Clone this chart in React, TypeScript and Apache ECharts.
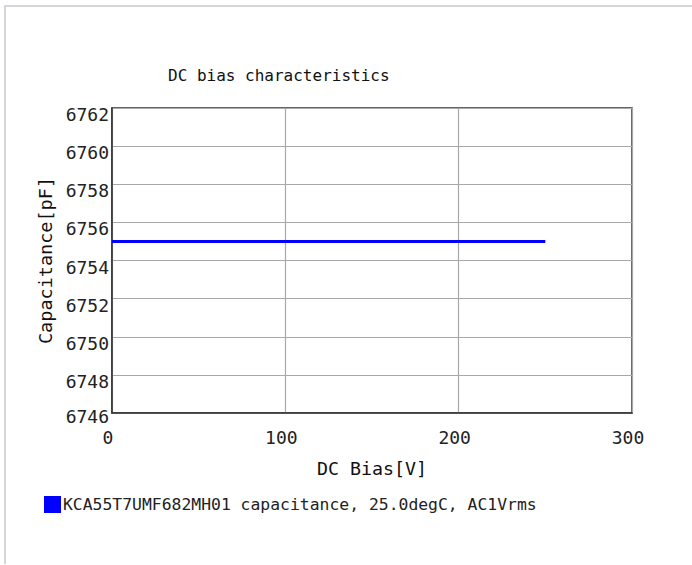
import React, { useEffect, useRef } from "react";
import * as echarts from "echarts";

const biasV = [0, 50, 100, 150, 200, 250];
const capacitancePF = [6755, 6755, 6755, 6755, 6755, 6755];
const seriesName = "KCA55T7UMF682MH01 capacitance, 25.0degC, AC1Vrms";
const titleText = "DC bias characteristics";
const xName = "DC Bias[V]";
const yName = "Capacitance[pF]";

const FONT = "'DejaVu Sans Mono', monospace";

export default function App() {
  const ref = useRef<HTMLDivElement>(null);
  useEffect(() => {
    if (!ref.current) return;
    const chart = echarts.init(ref.current, undefined, { renderer: "svg" });
    chart.setOption({
      animation: false,
      title: {
        text: titleText,
        left: 168,
        top: 67,
        padding: 0,
        textStyle: { fontFamily: FONT, fontSize: 16, fontWeight: "normal", color: "#111" },
      },
      legend: {
        left: 44,
        top: 496,
        padding: 0,
        itemWidth: 17,
        itemHeight: 17,
        icon: "rect",
        data: [{ name: seriesName, icon: "rect" }],
        textStyle: { fontFamily: FONT, fontSize: 16.4, color: "#222", padding: [0, 0, 0, -3] },
      },
      grid: {
        left: 112,
        right: 60,
        top: 108,
        bottom: 152,
        show: true,
        borderColor: "#333",
        borderWidth: 1.5,
        containLabel: false,
      },
      xAxis: {
        type: "value",
        min: 0,
        max: 300,
        interval: 100,
        name: xName,
        nameLocation: "middle",
        nameGap: 46,
        nameTextStyle: { fontFamily: FONT, fontSize: 18.3, color: "#111" },
        axisLine: { show: true, lineStyle: { color: "#333", width: 1.5 } },
        axisTick: { show: false },
        axisLabel: { fontFamily: FONT, fontSize: 18, color: "#222", margin: 15, padding: [0, 8, 0, 0] },
        splitLine: { show: true, lineStyle: { color: "#a8a8a8", width: 1.2 } },
      },
      yAxis: {
        type: "value",
        min: 6746,
        max: 6762,
        interval: 2,
        name: yName,
        nameLocation: "middle",
        nameGap: 50,
        nameTextStyle: { fontFamily: FONT, fontSize: 18.5, color: "#111" },
        axisLine: { show: true, lineStyle: { color: "#333", width: 1.5 } },
        axisTick: { show: false },
        axisLabel: {
          margin: 3,
          color: "#222",
          fontFamily: FONT,
          fontSize: 18,
          formatter: (v: number) => (v === 6746 ? `{b|${v}}` : `{a|${v}}`),
          rich: {
            a: { fontFamily: FONT, fontSize: 18, color: "#222", padding: [13, 0, 0, 0] },
            b: { fontFamily: FONT, fontSize: 18, color: "#222", padding: [6, 0, 0, 0] },
          },
        },
        splitLine: { show: true, lineStyle: { color: "#a8a8a8", width: 1.2 } },
      },
      series: [
        {
          name: seriesName,
          type: "line",
          data: biasV.map((x, i) => [x, capacitancePF[i]]),
          showSymbol: false,
          symbol: "none",
          lineStyle: { color: "#0000ff", width: 3 },
          itemStyle: { color: "#0000ff" },
        },
      ],
    });
    return () => chart.dispose();
  }, []);
  return (
    <div style={{ position: "fixed", left: 0, top: 0, width: 692, height: 565, background: "#fff", overflow: "hidden" }}>
      <div
        style={{
          position: "absolute",
          left: 4,
          top: 5,
          width: 720,
          height: 557,
          borderTop: "2px solid #d3d7db",
          borderLeft: "2px solid #d3d7db",
        }}
      />
      <div ref={ref} style={{ position: "absolute", left: 0, top: 0, width: 692, height: 565 }} />
    </div>
  );
}
